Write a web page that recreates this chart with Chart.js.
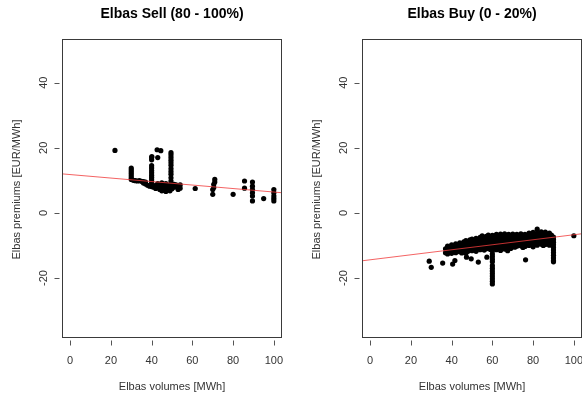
<!DOCTYPE html>
<html>
<head>
<meta charset="utf-8">
<script src="https://cdn.jsdelivr.net/npm/chart.js@4/dist/chart.umd.min.js"></script>
<style>
  html, body { margin: 0; padding: 0; background: #fff; }
  #wrap { position: relative; width: 582px; height: 398px; overflow: hidden; }
  canvas { position: absolute; top: 0; }
</style>
</head>
<body>
<div id="wrap">
  <canvas id="c1" width="300" height="398" style="left:0px"></canvas>
  <canvas id="c2" width="282" height="398" style="left:300px"></canvas>
</div>
<script>
// ---- data ----
const xTicks = [0, 20, 40, 60, 80, 100];
const yTicks = [-20, 0, 20, 40];
const xRange = [-4, 104];
const yRange = [-38.4, 53.4];

const sellTitle = "Elbas Sell (80 - 100%)";
const buyTitle = "Elbas Buy (0 - 20%)";
const xTitle = "Elbas volumes [MWh]";
const yTitle = "Elbas premiums [EUR/MWh]";

// regression lines: [intercept, slope]
const sellFit = [11.78, -0.0537];
const buyFit = [-14.39, 0.0769];

const sellPoints = [
  [22,19.2],
  [30,13.8],[30,13.2],[30,12.6],[30,12.0],[30,11.4],[30,10.8],[30,10.3],
  [31,10.0],[32,9.9],[33,9.8],[34,9.9],[35,9.7],[36,9.6],[37,9.5],
  [36,9.2],[37,8.9],[38,8.5],[39,8.2],[41,7.9],
  [40,17.0],[40,16.3],[40,14.5],[40,13.8],[40,13.0],[40,12.3],[40,11.6],[40,10.9],[40,10.2],[40,9.5],[40,8.8],[40,8.1],
  [42.7,19.4],[44.5,19.1],[40.1,17.3],[43,17.0],
  [49.5,18.5],[49.5,17.8],[49.5,17.0],[49.5,16.2],[49.5,15.4],[49.5,14.6],[49.5,13.6],[49.5,12.7],[49.5,11.9],[49.5,10.8],[49.5,9.8],[49.5,9.0],[49.5,8.2],
  [42,8.5],[42,7.5],[43,9.0],[43,8.0],[44,7.2],[44,8.6],[45,9.2],[45,7.6],[45,6.8],[46,8.2],[46,7.0],[47,9.0],[47,7.6],[47,6.6],
  [48,8.4],[48,7.3],[49,6.8],[49,7.9],[50,7.4],[51,8.8],[51,7.9],[52,8.6],[53,7.2],[53,8.0],[54,8.6],[54,7.6],
  [61.4,7.5],
  [71,10.3],[71,9.5],[70.5,8.8],[70.5,7.8],[70,7.2],[70,5.7],
  [80,5.7],
  [85.6,9.8],[85.6,7.6],
  [89.5,9.5],[89.5,8.2],[89.5,7.2],[89.5,6.2],[89.5,5.2],[89.5,3.7],
  [95,4.4],
  [100,7.2],[100,6.2],[100,5.2],[100,4.4],[100,3.7]
];

const buyOutliers = [
  [29,-14.8],[30,-16.7],[35.6,-15.4],[40.5,-15.7],[41.6,-14.6],[47.3,-13.6],[49.6,-14.1],
  [53.1,-15.1],[57.3,-13.6],[67.5,-11.6],[76.3,-14.4],[82,-5.0],[100,-7.0]
];
const buyStack60 = [
  [60,-12.6],[60,-13.4],[60,-14.2],[60,-15.0],[60,-16.2],[60,-17.0],[60,-17.8],[60,-18.6],[60,-19.4],[60,-20.2],[60,-21.0],[60,-21.8]
];
const buyStack90 = [
  [90,-7.4],[90,-8.2],[90,-9.0],[90,-9.8],[90,-10.6],[90,-11.4],[90,-12.2],[90,-13.0],[90,-13.8],[90,-14.6],[90,-15.0]
];
const buyBand = [
  [37,-11.0],[37,-12.2],
  [38,-10.2],[38,-11.5],[38,-12.6],
  [39,-10.8],[39,-12.0],
  [40,-9.8],[40,-11.2],[40,-12.4],
  [41,-10.4],[41,-11.8],
  [42,-9.5],[42,-10.8],[42,-12.2],
  [43,-9.9],[43,-11.4],
  [44,-9.2],[44,-10.5],[44,-11.9],
  [45,-9.6],[45,-11.0],[45,-12.3],
  [46,-8.9],[46,-10.2],[46,-11.6],
  [47,-8.5],[47,-9.7],[47,-11.0],[47,-12.4],
  [48,-9.1],[48,-10.5],[48,-11.8],
  [49,-8.3],[49,-9.6],[49,-11.2],
  [50,-8.0],[50,-9.0],[50,-10.3],[50,-11.6],
  [51,-8.6],[51,-9.8],[51,-11.0],
  [52,-7.8],[52,-9.2],[52,-10.6],[52,-11.8],
  [53,-8.3],[53,-9.5],[53,-10.9],
  [54,-7.5],[54,-8.8],[54,-10.1],[54,-11.3],
  [55,-7.0],[55,-8.2],[55,-9.4],[55,-10.7],
  [56,-7.6],[56,-8.9],[56,-10.2],[56,-11.4],
  [57,-7.2],[57,-8.4],[57,-9.7],[57,-11.0],
  [58,-6.8],[58,-8.0],[58,-9.2],[58,-10.5],
  [59,-7.4],[59,-8.6],[59,-9.9],[59,-11.2],
  [60,-6.9],[60,-7.8],[60,-8.8],[60,-9.8],[60,-10.8],[60,-11.6],
  [61,-7.1],[61,-8.3],[61,-9.5],[61,-10.6],
  [62,-6.6],[62,-7.7],[62,-9.0],[62,-10.2],[62,-11.3],
  [63,-7.2],[63,-8.5],[63,-9.7],[63,-10.9],
  [64,-6.5],[64,-7.8],[64,-9.1],[64,-10.4],[64,-11.5],
  [65,-6.9],[65,-8.1],[65,-9.4],[65,-10.6],
  [66,-6.4],[66,-7.5],[66,-8.7],[66,-10.0],[66,-11.1],
  [67,-7.0],[67,-8.3],[67,-9.6],[67,-10.8],
  [68,-6.6],[68,-7.8],[68,-9.0],[68,-10.3],
  [69,-7.3],[69,-8.5],[69,-9.8],[69,-10.9],
  [70,-6.5],[70,-7.6],[70,-8.9],[70,-10.1],
  [71,-6.9],[71,-8.2],[71,-9.4],[71,-10.5],
  [72,-6.6],[72,-7.8],[72,-9.0],[72,-10.2],
  [73,-7.2],[73,-8.5],[73,-9.7],
  [74,-6.4],[74,-7.6],[74,-8.9],[74,-10.1],
  [75,-7.0],[75,-8.2],[75,-9.5],[75,-10.6],
  [76,-6.6],[76,-7.8],[76,-9.1],[76,-10.3],
  [77,-7.3],[77,-8.6],[77,-9.8],
  [78,-6.2],[78,-7.5],[78,-8.8],[78,-10.0],
  [79,-6.8],[79,-8.1],[79,-9.4],
  [80,-6.0],[80,-7.2],[80,-8.5],[80,-9.7],[80,-10.4],
  [81,-6.6],[81,-7.9],[81,-9.1],
  [82,-6.2],[82,-7.4],[82,-8.7],[82,-9.9],
  [83,-6.8],[83,-8.0],[83,-9.3],
  [84,-5.8],[84,-7.1],[84,-8.4],[84,-9.6],
  [85,-6.4],[85,-7.7],[85,-8.9],[85,-10.0],
  [86,-5.9],[86,-7.2],[86,-8.5],[86,-9.7],
  [87,-6.6],[87,-7.9],[87,-9.1],
  [88,-6.2],[88,-7.4],[88,-8.7],[88,-9.9],
  [89,-6.8],[89,-8.1],[89,-9.3]
];

// ---- drawing ----
const FONT = "'Liberation Sans', Arial, Helvetica, sans-serif";

function rStylePlugin(title) {
  return {
    id: 'rstyle',
    afterDraw(chart) {
      const ctx = chart.ctx, a = chart.chartArea;
      const xs = chart.scales.x, ys = chart.scales.y;
      const L = Math.round(a.left) + 0.5, R = Math.round(a.right) - 0.5;
      const T = Math.round(a.top) + 0.5, B = Math.round(a.bottom) - 0.5;
      ctx.save();
      ctx.strokeStyle = '#3a3a3a';
      ctx.lineWidth = 1;
      ctx.strokeRect(L, T, R - L, B - T);
      ctx.beginPath();
      xTicks.forEach(v => {
        const px = Math.round(xs.getPixelForValue(v)) + 0.5;
        ctx.moveTo(px, B + 3); ctx.lineTo(px, B + 8);
      });
      yTicks.forEach(v => {
        const py = Math.round(ys.getPixelForValue(v)) + 0.5;
        ctx.moveTo(L - 3, py); ctx.lineTo(L - 8, py);
      });
      ctx.strokeStyle = '#555';
      ctx.stroke();

      ctx.fillStyle = '#333';
      ctx.font = '11px ' + FONT;
      ctx.textAlign = 'center';
      ctx.textBaseline = 'middle';
      xTicks.forEach(v => {
        ctx.fillText(String(v), xs.getPixelForValue(v), B + 23);
      });
      yTicks.forEach(v => {
        ctx.save();
        ctx.translate(L - 19, ys.getPixelForValue(v));
        ctx.rotate(-Math.PI / 2);
        ctx.fillText(String(v), 0, 0);
        ctx.restore();
      });
      const cx = (a.left + a.right) / 2, cy = (a.top + a.bottom) / 2;
      ctx.fillText(xTitle, cx, 387);
      ctx.save();
      ctx.translate(17, cy + 1);
      ctx.rotate(-Math.PI / 2);
      ctx.fillText(yTitle, 0, 0);
      ctx.restore();

      ctx.fillStyle = '#000';
      ctx.font = 'bold 14px ' + FONT;
      ctx.fillText(title, cx, 14);
      ctx.restore();
    }
  };
}

function makeChart(id, title, points, fit, padRight) {
  const fitLine = xRange.map(x => ({ x: x, y: fit[0] + fit[1] * x }));
  return new Chart(document.getElementById(id), {
    type: 'scatter',
    data: {
      datasets: [
        {
          data: points.map(p => ({ x: p[0], y: p[1] })),
          backgroundColor: '#000',
          borderWidth: 0,
          pointRadius: 2.6,
          order: 1
        },
        {
          type: 'line',
          data: fitLine,
          borderColor: 'rgba(240,60,60,0.8)',
          borderWidth: 1,
          pointRadius: 0,
          fill: false,
          order: 0
        }
      ]
    },
    options: {
      responsive: false,
      animation: false,
      events: [],
      layout: { autoPadding: false, padding: { left: 62, right: padRight, top: 39, bottom: 60 } },
      plugins: { legend: { display: false }, tooltip: { enabled: false } },
      scales: {
        x: { type: 'linear', display: false, min: xRange[0], max: xRange[1] },
        y: { type: 'linear', display: false, min: yRange[0], max: yRange[1] }
      }
    },
    plugins: [rStylePlugin(title)]
  });
}

makeChart('c1', sellTitle, sellPoints, sellFit, 18);
makeChart('c2', buyTitle, buyBand.concat(buyOutliers, buyStack60, buyStack90), buyFit, 0);
</script>
</body>
</html>
